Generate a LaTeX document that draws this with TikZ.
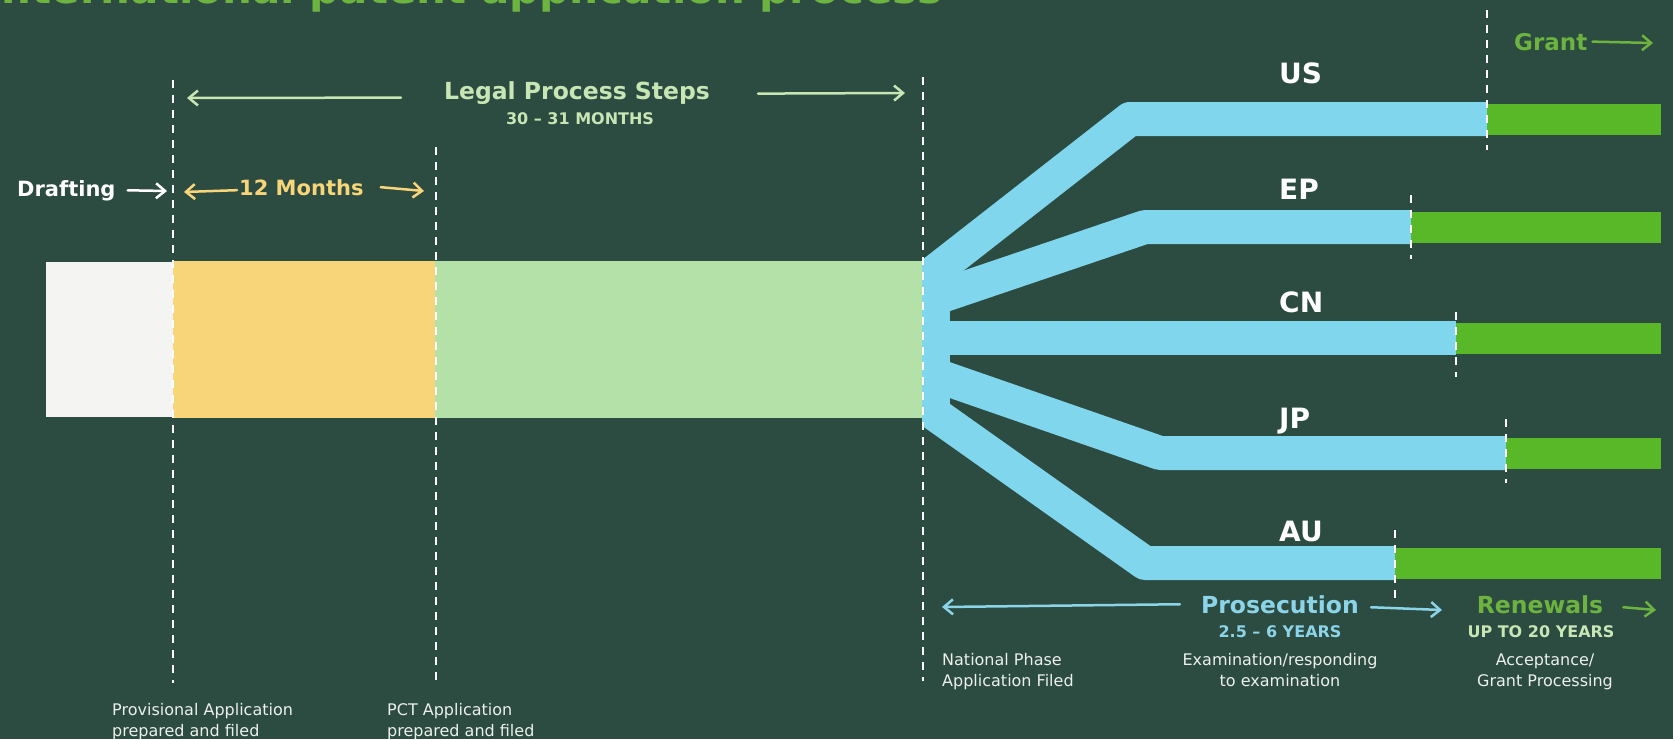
\documentclass[tikz,border=0pt]{standalone}
\usepackage{fontspec}
\setmainfont{DejaVu Sans}
\usetikzlibrary{positioning,arrows.meta,calc}
\definecolor{boardgreen}{RGB}{44,75,65}
\definecolor{titlegreen}{RGB}{108,179,63}
\definecolor{palegreen}{RGB}{200,230,180}
\definecolor{draftwhite}{RGB}{244,244,242}
\definecolor{monthyellow}{RGB}{249,213,122}
\definecolor{legalgreen}{RGB}{180,225,168}
\definecolor{prosblue}{RGB}{128,214,236}
\definecolor{prostext}{RGB}{140,212,232}
\definecolor{grantgreen}{RGB}{88,184,40}
\definecolor{captionwhite}{RGB}{236,240,236}

\begin{document}
\begin{tikzpicture}[
    x=1pt, y=-1pt,
    bar/.style={rectangle, inner sep=0pt, outer sep=0pt},
    heading/.style={inner sep=0pt, anchor=base, font=\fontsize{23.5}{28}\selectfont\bfseries},
    subhead/.style={inner sep=0pt, anchor=base, font=\fontsize{16}{19}\selectfont\bfseries},
    marker/.style={inner sep=0pt, anchor=base west, font=\fontsize{21}{25}\selectfont\bfseries},
    country/.style={inner sep=0pt, anchor=base west, text=white, font=\fontsize{28}{32}\selectfont\bfseries},
    caption/.style={inner sep=0pt, anchor=base west, align=left, text=captionwhite, font=\fontsize{16}{21}\selectfont},
    milestone/.style={draw=white, line width=2pt, dash pattern=on 8pt off 7pt},
    branch/.style={draw=prosblue, line width=34pt, line join=round},
    renewal/.style={draw=grantgreen, line width=31pt},
    chalkarrow/.style={-{Straight Barb[length=9pt,width=15pt]}, line width=2.5pt, line cap=round}
]

\fill[boardgreen] (0,0) rectangle (1673,739);
\useasboundingbox (0,0) rectangle (1673,739);

% Title
\node[inner sep=0pt, anchor=base west, text=titlegreen, font=\fontsize{42}{46}\selectfont\bfseries] (title) at (-14,3) {International patent application process};

% Stages
\node[bar, fill=draftwhite, minimum width=127pt, minimum height=155pt, anchor=north west] (drafting) at (46,262) {};
\node[bar, fill=monthyellow, minimum width=262pt, minimum height=157pt, right=0pt of drafting] (provisional) {};
\node[bar, fill=legalgreen, minimum width=488pt, minimum height=157pt, right=0pt of provisional] (pct) {};

% Split points
\coordinate (us-split) at (1487,119);
\coordinate (ep-split) at (1411,227);
\coordinate (cn-split) at (1456,338);
\coordinate (jp-split) at (1506,453);
\coordinate (au-split) at (1395,563);

% National branches
\begin{scope}
\clip (922,0) rectangle (1673,739);
\fill[prosblue] (922,262) rectangle (950,424);
\draw[branch] (915,287) -- (1130,119) -- (us-split);
\draw[branch] (915,305) -- (1145,227) -- (ep-split);
\draw[branch] (915,338) -- (cn-split);
\draw[branch] (915,368) -- (1160,453) -- (jp-split);
\draw[branch] (915,400) -- (1145,563) -- (au-split);
\end{scope}

\draw[renewal] (us-split) -- (1661,119);
\draw[renewal] (ep-split) -- (1661,227);
\draw[renewal] (cn-split) -- (1661,338);
\draw[renewal] (jp-split) -- (1661,453);
\draw[renewal] (au-split) -- (1661,563);

% Milestones
\draw[milestone] (173,80) -- (173,683);
\draw[milestone] (436,147) -- (436,683);
\draw[milestone] (923,77) -- (923,681);
\draw[milestone] (1487,10) -- (1487,150);
\draw[milestone] (1411,195) -- (1411,259);
\draw[milestone] (1456,312) -- (1456,377);
\draw[milestone] (1506,419) -- (1506,483);
\draw[milestone] (1395,530) -- (1395,598);

% Countries
\node[country] (us) at (1279,83) {US};
\node[country] (ep) at (1279,199) {EP};
\node[country] (cn) at (1279,312) {CN};
\node[country] (jp) at (1279,428) {JP};
\node[country] (au) at (1279,541) {AU};

% Top labels
\node[marker, text=white] (draftlbl) at (17,196) {Drafting};
\node[marker, text=monthyellow] (months) at (239,195) {12 Months};
\node[heading, text=palegreen] (legal) at (577,99) {Legal Process Steps};
\node[subhead, text=palegreen] (legalspan) at (580,124) {30 – 31 MONTHS};
\node[inner sep=0pt, anchor=base west, text=titlegreen, font=\fontsize{23}{27}\selectfont\bfseries] (grant) at (1514,50) {Grant};

\coordinate (draft-end) at (167,191);
\coordinate (months-left) at (184,192);
\coordinate (months-right) at (424,191);
\coordinate (legal-left) at (187,98);
\coordinate (legal-right) at (905,93);
\coordinate (grant-end) at (1653,43);

\draw[chalkarrow, white] ($(draftlbl.east)+(12,0)$) -- (draft-end);
\draw[chalkarrow, monthyellow] ($(months.west)+(-2,3)$) -- (months-left);
\draw[chalkarrow, monthyellow] ($(months.east)+(17,0)$) -- (months-right);
\draw[chalkarrow, palegreen] ($(legal.west)+(-43,5)$) -- (legal-left);
\draw[chalkarrow, palegreen] ($(legal.east)+(48,1)$) -- (legal-right);
\draw[chalkarrow, titlegreen] ($(grant.east)+(5,0)$) -- (grant-end);

% Bottom labels
\node[heading, text=prostext] (prosecution) at (1280,613) {Prosecution};
\node[subhead, text=prostext] (prosspan) at (1280,637) {2.5 – 6 YEARS};
\node[heading, text=titlegreen] (renewals) at (1540,613) {Renewals};
\node[subhead, text=palegreen] (renewspan) at (1541,637) {UP TO 20 YEARS};

\coordinate (pros-left) at (942,607);
\coordinate (pros-right) at (1442,610);
\coordinate (renew-end) at (1656,610);

\draw[chalkarrow, prostext] ($(prosecution.west)+(-21,0)$) -- (pros-left);
\draw[chalkarrow, prostext] ($(prosecution.east)+(12,3)$) -- (pros-right);
\draw[chalkarrow, titlegreen] ($(renewals.east)+(20,3)$) -- (renew-end);

% captions (base = last line)
\node[caption] (provcap) at (112,736) {Provisional Application\\prepared and filed};
\node[caption] (pctcap) at (387,736) {PCT Application\\prepared and filed};
\node[caption] (natcap) at (942,686) {National Phase\\Application Filed};
\node[caption, align=center, anchor=base] (examcap) at (1280,686) {Examination/responding\\to examination};
\node[caption, align=center, anchor=base] (grantcap) at (1545,686) {Acceptance/\\Grant Processing};

\end{tikzpicture}
\end{document}
